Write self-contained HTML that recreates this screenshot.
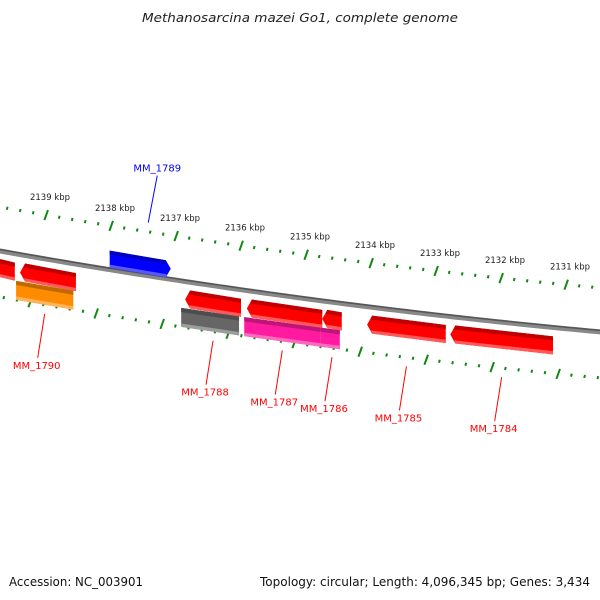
<!DOCTYPE html>
<html><head><meta charset="utf-8"><style>
html,body{margin:0;padding:0;background:#fff;}
svg{display:block;font-family:"DejaVu Sans","Liberation Sans",sans-serif;}
</style></head><body>
<svg id="map" width="600" height="600" viewBox="0 0 600 600">
<text x="142" y="22" textLength="316" lengthAdjust="spacingAndGlyphs" font-size="12" font-style="italic" fill="#222">Methanosarcina mazei Go1, complete genome</text>
<text x="9" y="586" textLength="134" lengthAdjust="spacingAndGlyphs" font-size="12" fill="#111">Accession: NC_003901</text>
<text x="260" y="586" textLength="330" lengthAdjust="spacingAndGlyphs" font-size="12" fill="#111">Topology: circular; Length: 4,096,345 bp; Genes: 3,434</text>
<g id="ticks"></g>
<g id="backbone"></g>
<g id="genes"></g>
<g id="labels"></g>
</svg>
<script>
const tickStart = 2140.2;
const tickEnd = 2130.4;
const majorKbp = [2139, 2138, 2137, 2136, 2135, 2134, 2133, 2132, 2131];
const geneNames = ["", "", "MM_1790", "MM_1789", "MM_1788", "", "", "MM_1787", "MM_1786", "", "MM_1785", "MM_1784"];
const geneStart = [2139.78, 2139.40, 2139.46, 2138.02, 2136.86, 2136.92, 2135.91, 2135.95, 2134.75, 2134.78, 2134.06, 2132.78];
const geneEnd = [2139.48, 2138.54, 2138.58, 2137.08, 2136.00, 2136.03, 2134.75, 2134.78, 2134.45, 2134.48, 2132.85, 2131.20];
const geneRow = [1, 1, 2, 0, 1, 2, 1, 2, 1, 2, 1, 1];
const geneColor = ["#ff0000", "#ff0000", "#ff8c00", "#0000ff", "#ff0000", "#666666", "#ff0000", "#ff1aa0", "#ff0000", "#ff1aa0", "#ff0000", "#ff0000"];
const geneArrow = [-1, -1, 0, 1, -1, 0, -1, 0, -1, 0, -1, -1];

const NS = "http://www.w3.org/2000/svg";
function yc(x){ return 251 + 0.178*x - 7.2e-5*x*x; }
function xU(k){ return 46 + (2139-k)*65; }
function xL(k){ return 30 + (2139-k)*66; }
function mk(tag, attrs, parent){ const e=document.createElementNS(NS,tag); for(const a in attrs) e.setAttribute(a,attrs[a]); parent.appendChild(e); return e; }
function shade(hex, f){
  let r=parseInt(hex.substr(1,2),16), g=parseInt(hex.substr(3,2),16), b=parseInt(hex.substr(5,2),16);
  if(f<1){ r*=f; g*=f; b*=f; } else { r+= (255-r)*(f-1); g+=(255-g)*(f-1); b+=(255-b)*(f-1); }
  return "rgb("+Math.round(r)+","+Math.round(g)+","+Math.round(b)+")";
}

const bb = document.getElementById('backbone');
let d = "M -5 " + yc(-5);
for(let x=0;x<=605;x+=5) d += " L " + x + " " + yc(x).toFixed(2);
const b1 = mk('path',{d:d,stroke:'#888',"stroke-width":5,fill:'none'},bb);


const b2 = mk('path',{d:d,stroke:'#555',"stroke-width":1.5,fill:'none',transform:'translate(0,-1.5)'},bb);



const tg = document.getElementById('ticks');
for(let k=tickStart; k>=tickEnd-1e-6; k-=0.2){
  const kr = Math.round(k*10)/10;
  const major = Math.abs(kr-Math.round(kr))<1e-6;
  [[xU(kr),-44],[xL(kr),46]].forEach(([x,off],i)=>{
    if(x<-5||x>605) return;
    const y = yc(x)+off;
    const len = major?5:1.5;
    const t = mk('line',{x1:x+0.8*len/2,y1:y-len,x2:x-0.8*len/2+0.4,y2:y+len,stroke:'#118811',"stroke-width":2},tg);
    
    
  });
}
majorKbp.forEach(k=>{
  const x = xU(k);
  const t = mk('text',{x:x+4,y:yc(x)-44-15,"font-size":8.5,"text-anchor":"middle",fill:'#222'},tg);
  t.textContent = k + " kbp";
  
  
});

const gg = document.getElementById('genes');
const rowOff = [[-19,-2],[9,27],[27,46]];
const lg = document.getElementById('labels');
for(let i=0;i<geneStart.length;i++){
  const x1 = xU(geneStart[i]), x2 = xU(geneEnd[i]);
  const [o1,o2] = rowOff[geneRow[i]];
  const ya1 = yc(x1)+o1, yb1 = yc(x1)+o2, ya2 = yc(x2)+o1, yb2 = yc(x2)+o2;
  const a = 5;
  let pts;
  if(geneArrow[i]===1){
    pts = [[x1,ya1],[x2-a,ya2],[x2,(ya2+yb2)/2],[x2-a,yb2],[x1,yb1]];
  } else if(geneArrow[i]===-1){
    pts = [[x1+a,ya1],[x2,ya2],[x2,yb2],[x1+a,yb1],[x1,(ya1+yb1)/2]];
  } else {
    pts = [[x1,ya1],[x2,ya2],[x2,yb2],[x1,yb1]];
  }
  const g = mk('g',{},gg);
  
  
  mk('polygon',{points:pts.map(p=>p.join(',')).join(' '),fill:geneColor[i]},g);
  const h = (o2-o1);
  mk('polygon',{points:[[x1+(geneArrow[i]===-1?a:0),ya1],[x2-(geneArrow[i]===1?a:0),ya2],[x2-(geneArrow[i]===1?a*0.7:0),ya2+h*0.22],[x1+(geneArrow[i]===-1?a*0.7:0),ya1+h*0.22]].map(p=>p.join(',')).join(' '),fill:shade(geneColor[i],0.75)},g);
  mk('polygon',{points:[[x1+(geneArrow[i]===-1?a*0.8:0),yb1-h*0.18],[x2-(geneArrow[i]===1?a*0.8:0),yb2-h*0.18],[x2-(geneArrow[i]===1?a:0),yb2],[x1+(geneArrow[i]===-1?a:0),yb1]].map(p=>p.join(',')).join(' '),fill:shade(geneColor[i],1.35)},g);

  if(geneNames[i]){
    const col = geneRow[i]===0 ? '#0000ff' : '#ff0000';
    const xm = (x1+x2)/2;
    let lx1, ly1, lx2, ly2, tx, ty;
    if(geneRow[i]===0){
      lx1 = xm+8; ly1 = yc(xm)-52; lx2 = xm+17; ly2 = ly1-47; tx = lx2; ty = ly2-4;
    } else {
      lx1 = xm; ly1 = yc(xm)+55; lx2 = xm-7; ly2 = ly1+44; tx = lx2-1; ty = ly2+11;
    }
    const ln = mk('line',{x1:lx1,y1:ly1,x2:lx2,y2:ly2,stroke:col,"stroke-width":1},lg);
    
    
    const t = mk('text',{x:tx,y:ty,"font-size":10,"text-anchor":"middle",fill:col},lg);
    t.textContent = geneNames[i];
    
    
  }
}
</script>
</body></html>
